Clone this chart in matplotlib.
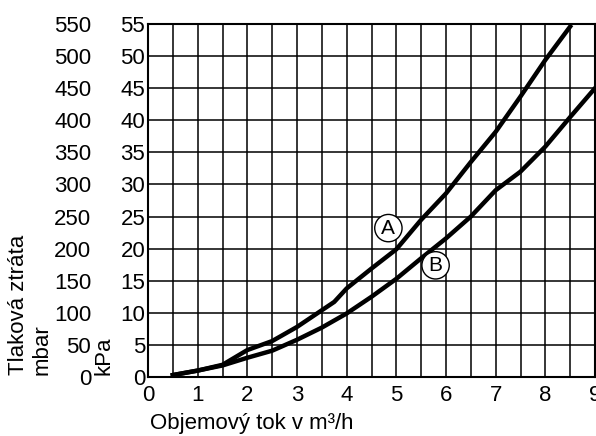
import numpy as np
import matplotlib
matplotlib.use("Agg")
import matplotlib.pyplot as plt

plt.rcParams['font.family'] = ['Liberation Sans', 'DejaVu Sans']

# Kurva A
flow_a = [0.5, 1, 1.5, 2, 2.5, 3, 3.5, 3.75, 4, 4.5, 5, 5.5, 6, 6.5, 7, 7.5, 8, 8.5]
loss_a = [0.3, 1.0, 1.9, 4.2, 5.6, 7.8, 10.4, 11.7, 13.8, 16.9, 19.9, 24.5, 28.6, 33.5, 38.2, 43.7, 49.4, 54.6]

# Kurva B
flow_b = [0.5, 1, 1.5, 2, 2.5, 3, 3.5, 4, 4.5, 5, 5.5, 6, 6.5, 7, 7.5, 8, 8.5, 9]
loss_b = [0.3, 1.0, 1.8, 3.0, 4.1, 5.8, 7.7, 9.9, 12.5, 15.3, 18.5, 21.6, 25.0, 29.1, 32.0, 35.9, 40.5, 45.0]

kpa_ticks = list(range(0, 60, 5))
mbar_ticks = list(range(0, 600, 50))
x_ticks = list(range(0, 10))

W, H = 596, 436
fig = plt.figure(figsize=(W / 100, H / 100), dpi=100)
ax = fig.add_axes([148 / W, (H - 377) / H, (595 - 148) / W, (377 - 24) / H])

ax.plot(flow_a, loss_a, color='black', lw=3.2, solid_joinstyle='round')
ax.plot(flow_b, loss_b, color='black', lw=3.2, solid_joinstyle='round')

ax.set_xlim(0, 9)
ax.set_ylim(0, 55)
ax.set_xticks(x_ticks)
ax.set_xticks(np.arange(0, 9.01, 0.5), minor=True)
ax.set_yticks(kpa_ticks)
ax.grid(True, which='both', axis='x', color='black', lw=1.1)
ax.grid(True, which='major', axis='y', color='black', lw=1.1)
ax.tick_params(which='both', length=0, labelsize=16)
ax.tick_params(axis='x', pad=6)
ax.tick_params(axis='y', pad=2)
for s in ax.spines.values():
    s.set_linewidth(1.5)

# druhá stupnice v mbar
sec = ax.secondary_yaxis(-0.127, functions=(lambda k: k * 10, lambda m: m / 10))
sec.set_yticks(mbar_ticks)
sec.tick_params(length=0, labelsize=16, pad=0)
sec.spines['left'].set_visible(False)

# popisky křivek
ax.text(4.84, 23.2, 'A', fontsize=15, ha='center', va='center',
        bbox=dict(boxstyle='circle,pad=0.2', fc='white', ec='black', lw=1.0))
ax.text(5.79, 17.4, 'B', fontsize=15, ha='center', va='center',
        bbox=dict(boxstyle='circle,pad=0.2', fc='white', ec='black', lw=1.0))

fig.text(19 / W, 1 - 375 / H, 'Tlaková ztráta', rotation=90, fontsize=16,
         ha='center', va='bottom')
fig.text(42 / W, 1 - 375 / H, 'mbar', rotation=90, fontsize=16,
         ha='center', va='bottom')
fig.text(104 / W, 1 - 375 / H, 'kPa', rotation=90, fontsize=16,
         ha='center', va='bottom')
fig.text(150 / W, 1 - 423 / H, 'Objemový tok v m³/h', fontsize=16,
         ha='left', va='center')

fig.savefig('out.png', dpi=100)
